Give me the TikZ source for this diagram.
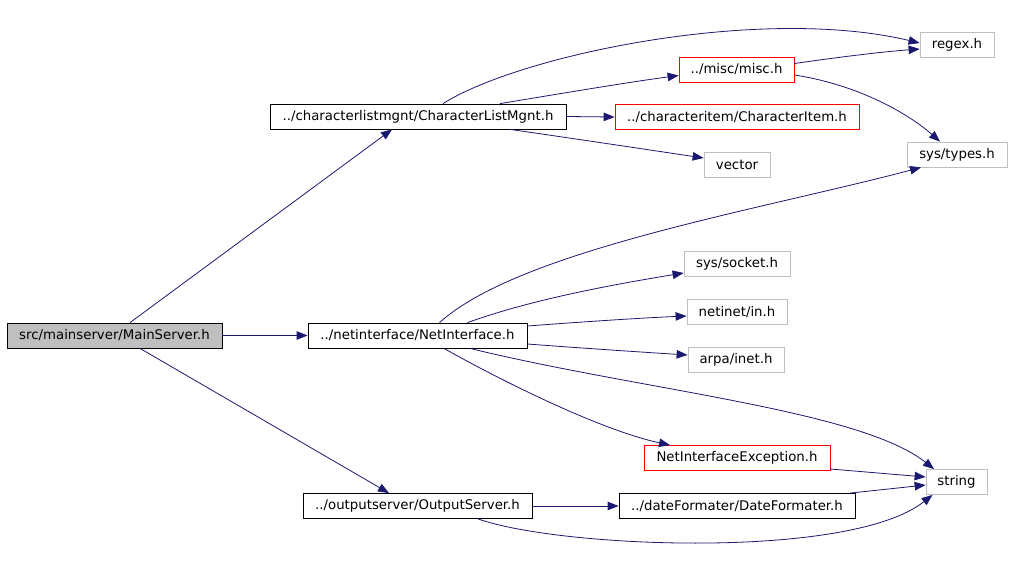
\documentclass[tikz,border=0pt]{standalone}
\usepackage{fontspec}
\setmainfont{DejaVu Sans}
\usetikzlibrary{arrows.meta}
\definecolor{edgeblue}{HTML}{191970}
\definecolor{sysgray}{HTML}{BFBFBF}
\begin{document}
\begin{tikzpicture}[x=1pt,y=-1pt,->,>={Triangle[length=11pt,width=8.5pt]},
  edgeblue,line width=0.8pt,
  hdr/.style={draw=black,fill=white,minimum height=25pt,inner sep=0pt,
    font=\fontsize{13.3}{15}\selectfont,text=black},
  main/.style={hdr,fill=sysgray},
  miss/.style={hdr,draw=red},
  sys/.style={hdr,draw=sysgray}]

\useasboundingbox (0,0) rectangle (1011,573);

\node [main,minimum width=215pt] (ms) at (114.5,335.5) {src/mainserver/MainServer.h};

\node [hdr,minimum width=296pt] (clm) at (418,116.5) {../characterlistmgnt/CharacterListMgnt.h};
\node [hdr,minimum width=219pt] (net) at (417.5,335.5) {../netinterface/NetInterface.h};
\node [hdr,minimum width=229pt] (out) at (417.5,506) {../outputserver/OutputServer.h};

\node [miss,minimum width=115pt] (misc) at (736.5,69.5) {../misc/misc.h};
\node [miss,minimum width=244pt] (item) at (737,117) {../characteritem/CharacterItem.h};
\node [sys,minimum width=66pt] (vector) at (737,165) {vector};
\node [sys,minimum width=106pt] (socket) at (737,264) {sys/socket.h};
\node [sys,minimum width=100pt] (netin) at (737,312) {netinet/in.h};
\node [sys,minimum width=96pt] (arpa) at (736,360) {arpa/inet.h};
\node [miss,minimum width=186pt] (nie) at (737,458) {NetInterfaceException.h};
\node [hdr,minimum width=236pt] (date) at (737,506) {../dateFormater/DateFormater.h};

\node [sys,minimum width=74pt] (regex) at (957,45) {regex.h};
\node [sys,minimum width=100pt] (types) at (957,154.5) {sys/types.h};
\node [sys,minimum width=61pt] (string) at (956.5,482) {string};

% MainServer.h
\draw ([xshift=15.5pt]ms.north) -- ([xshift=-26pt]clm.south);
\draw (ms.east) -- (net.west);
\draw ([xshift=25.5pt]ms.south) -- ([xshift=-28.5pt]out.north);

% CharacterListMgnt.h
\draw ([xshift=25pt]clm.north) .. controls (520,55) and (760,5) .. ([yshift=2pt]regex.west);
\draw ([xshift=82pt]clm.north) .. controls (570,92) and (630,82) .. ([yshift=-6pt]misc.west);
\draw (clm.east) -- (item.west);
\draw ([xshift=92pt]clm.south) .. controls (570,138) and (650,150) .. ([yshift=7pt]vector.west);

% misc.h
\draw ([yshift=6pt]misc.east) .. controls (840,57) and (880,52) .. ([yshift=-4pt]regex.west);
\draw ([yshift=-5.5pt]misc.east) .. controls (860,85) and (910,115) .. ([xshift=-17pt]types.north);

% NetInterface.h
\draw ([xshift=22pt]net.north) .. controls (520,250) and (760,210) .. ([xshift=-36pt]types.south);
\draw ([xshift=50pt]net.north) .. controls (530,300) and (610,285) .. ([yshift=-9pt]socket.west);
\draw ([yshift=9.5pt]net.east) .. controls (580,322) and (640,318) .. ([yshift=-4pt]netin.west);
\draw ([yshift=-8.5pt]net.east) .. controls (580,348) and (640,352) .. ([yshift=5pt]arpa.west);
\draw ([xshift=52.5pt]net.south) .. controls (640,390) and (860,410) .. ([xshift=-22.5pt]string.north);
\draw ([xshift=26.5pt]net.south) .. controls (500,380) and (600,430) .. ([xshift=-67pt]nie.north);

% OutputServer.h
\draw (out.east) -- (date.west);
\draw ([xshift=60.5pt]out.south) .. controls (560,548) and (850,560) .. ([xshift=-24pt]string.south);

\draw ([yshift=-11pt]nie.east) -- ([yshift=5pt]string.west);
\draw ([xshift=113pt]date.north) -- ([yshift=-3pt]string.west);

\end{tikzpicture}
\end{document}
